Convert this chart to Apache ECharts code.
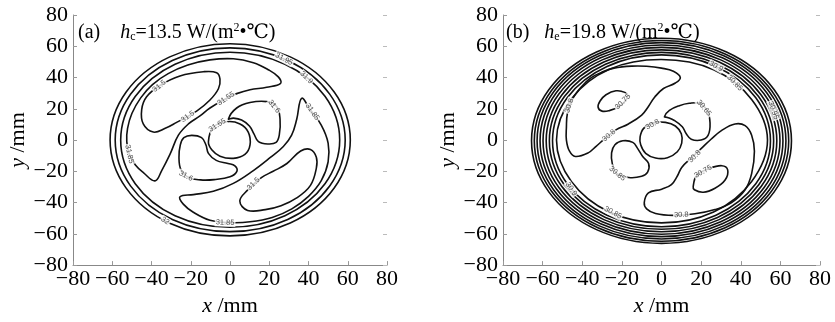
<!DOCTYPE html>
<html>
<head>
<meta charset="utf-8">
<script src="https://cdn.jsdelivr.net/npm/echarts@6/dist/echarts.min.js"></script>
<style>
	html,body{margin:0;padding:0;background:#fff;}
	#chart{width:835px;height:322px;}
</style>
</head>
<body>
<div id="chart"></div>
<script>
	// axis range (mm)
	const axisMin = -80, axisMax = 80, axisStep = 20;

	// ---- (a) hc = 13.5 : contour lines, [x mm, y mm]
	const ringA1 = [[61.3,0],[53.1,30.7],[30.7,53.2],[0,61.6],[-30.7,53.2],[-53,30.6],[-61.1,0],[-53,-30.6],[-30.7,-53.2],[0,-61.3],[30.7,-53.1],[53.1,-30.7]];
	const ringA2 = [[58.7,0],[50.8,29.4],[29.4,50.9],[0,59],[-29.4,50.9],[-50.7,29.3],[-58.5,0],[-50.7,-29.3],[-29.4,-50.8],[0,-58.6],[29.4,-50.8],[50.8,-29.4]];
	const ringA3 = [[55.9,0],[48.4,28],[28,48.5],[0,56.2],[-28,48.5],[-48.3,27.9],[-55.7,0],[-48.3,-27.9],[-28,-48.4],[0,-55.8],[28,-48.4],[48.4,-28]];
	const wrapUpperA = [[-38.2,-26.1],[-44,-21],[-48.2,-16],[-51.3,-9],[-52.6,-1],[-52.2,7.5],[-50,17],[-45.5,27],[-39.5,35.5],[-31.5,42.5],[-21.5,48],[-10.2,51.3],[1.7,52],[11.9,49.5],[19.5,45],[24.6,40.4],[25.8,36.3],[18.7,33.8],[10.2,32.2],[3.4,29.7],[-1.7,26.7],[-10.2,20.5],[-15.3,15.4],[-21.2,10.3],[-26.3,3.1],[-30.6,-9.2],[-34.8,-19.5]];
	const wrapLowerA = [[36.5,26.7],[40.8,19.5],[46.5,9.5],[50,-2],[50,-14],[46.5,-26],[40,-36],[31.5,-44],[21.5,-49.5],[10.2,-52.3],[0,-52.8],[-10.2,-51.3],[-18.7,-46.2],[-23.8,-41],[-25.5,-36.3],[-18.7,-34.9],[-8.5,-32.8],[1.7,-27.7],[11.9,-19.5],[20.4,-11.3],[27.2,-4.1],[31.4,3.1],[34,13.3]];
	const blobUpperA = [[-45,19.5],[-44.2,10.3],[-39.1,5.1],[-33,7.5],[-27.2,11.3],[-17,18.5],[-10.2,25.6],[-5.9,32.8],[-5.1,39],[-6.8,43.1],[-13.6,43.7],[-25.5,41],[-35.7,34.9],[-42.5,27.7]];
	const blobLowerA = [[5,-39],[9,-45],[18,-44.5],[26,-42],[34,-37],[41,-29],[44,-18],[44,-11],[41,-6],[36,-7],[29,-15],[22,-20],[16,-24],[9,-32]];
	const circleA = [[-11,-1],[-8.5,8.2],[-1.7,11.7],[5.1,10.3],[9.3,5.1],[10.2,-3.1],[7.6,-9.2],[1.7,-11.7],[-5.1,-10.3],[-9.3,-6.2]];
	const lobeRightA = [[-0.8,13.5],[3.4,20.5],[10.2,24],[18.7,24.6],[23.8,21.5],[25.5,13.3],[25.1,3.1],[23.5,-1.5],[19.5,-2.5],[14.5,-1],[12.2,4],[9.9,9],[5.9,12.8],[1.7,14]];
	const lobeLeftA = [[-25.3,-3],[-23.5,1.5],[-19.5,3],[-14.5,1.5],[-12.3,-3],[-11,-8.5],[-7,-13],[-1,-15],[2.5,-16.5],[3.5,-20],[0,-23.5],[-8,-25.3],[-15,-25.5],[-21,-24],[-25,-19],[-26,-11]];
	// contour labels (a): [x, y, text]
	const labelsA = [[-36,34.5,'31.5'],[-21.5,15,'31.5'],[-2,26.5,'31.55'],[22.5,21.5,'31.6'],[-6.5,9.5,'31.65'],[42,18,'31.85'],[39,40,'31.9'],[27.5,51.8,'31.95'],[-51.3,-9,'31.85'],[-22.5,-23,'31.6'],[12,-28,'31.5'],[-33,-51.6,'32'],[-2.5,-52.8,'31.85']];
	const labelAnglesA = [38,35,33,-50,32,-55,-44,-28,-78,-28,45,-33,-2];

	// ---- (b) he = 19.8
	const ringB1 = [[65.6,-0.5],[56.8,32.3],[32.8,56.3],[0,65.1],[-32.8,56.3],[-56.8,32.3],[-65.6,-0.5],[-56.8,-33.3],[-32.8,-57.3],[0,-66.1],[32.8,-57.3],[56.8,-33.3]];
	const ringB2 = [[64.2,-0.5],[55.6,31.6],[32.1,55.1],[0,63.7],[-32.1,55.1],[-55.6,31.6],[-64.2,-0.5],[-55.6,-32.6],[-32.1,-56.1],[0,-64.7],[32.1,-56.1],[55.6,-32.6]];
	const ringB3 = [[62.8,-0.5],[54.4,30.9],[31.4,53.9],[0,62.3],[-31.4,53.9],[-54.4,30.9],[-62.8,-0.5],[-54.4,-31.9],[-31.4,-54.9],[0,-63.3],[31.4,-54.9],[54.4,-31.9]];
	const ringB4 = [[61.3,-0.5],[53.1,30.2],[30.7,52.6],[0,60.8],[-30.7,52.6],[-53.1,30.2],[-61.3,-0.5],[-53.1,-31.2],[-30.7,-53.6],[0,-61.8],[30.7,-53.6],[53.1,-31.2]];
	const ringB5 = [[59.8,-0.5],[51.8,29.4],[29.9,51.3],[0,59.3],[-29.9,51.3],[-51.8,29.4],[-59.8,-0.5],[-51.8,-30.4],[-29.9,-52.3],[0,-60.3],[29.9,-52.3],[51.8,-30.4]];
	const ringB6 = [[58.2,-0.5],[50.4,28.6],[29.1,49.9],[0,57.7],[-29.1,49.9],[-50.4,28.6],[-58.2,-0.5],[-50.4,-29.6],[-29.1,-50.9],[0,-58.7],[29.1,-50.9],[50.4,-29.6]];
	const ringB7 = [[56.6,-0.5],[49,27.8],[28.3,48.5],[0,56.1],[-28.3,48.5],[-49,27.8],[-56.6,-0.5],[-49,-28.8],[-28.3,-49.5],[0,-57.1],[28.3,-49.5],[49,-28.8]];
	const ringB8 = [[55,-0.5],[47.6,27],[27.5,47.1],[0,54.5],[-27.5,47.1],[-47.6,27],[-55,-0.5],[-47.6,-28],[-27.5,-48.1],[0,-55.5],[27.5,-48.1],[47.6,-28]];
	const ringB9 = [[53.5,0],[45.5,26],[26.3,45],[0,51.5],[-26.3,45.3],[-45.5,26.3],[-53,0],[-45.5,-26.5],[-26.3,-46],[0,-53],[26.3,-46],[45.5,-26.5]];
	const blobUpperB = [[-47.5,17],[-45,26],[-40.5,34],[-36,39.5],[-30,43.5],[-24,46],[-15,47.3],[-7.5,47.2],[0,46],[6,44],[9.5,40],[7,36.5],[1,33],[-3.3,27.7],[-6.6,21.5],[-10,16],[-16.7,10.3],[-23,6.5],[-28.5,1],[-33,-4],[-37,-8.2],[-43.5,-10.5],[-46.5,-7],[-48,0],[-48,8]];
	const spotUpperB = [[-32,21],[-31,25],[-28,29],[-23,31.5],[-18.5,30.5],[-17,28],[-19,24],[-22,21],[-26,19],[-30,18.5]];
	const circleB = [[-10.8,2],[-9,7.5],[-4,11],[2,11.3],[7,9],[10,4],[10.2,-2],[8,-7.5],[3,-11.3],[-3,-11.5],[-8,-8.5],[-10.5,-3]];
	const lobeRightB = [[1.5,15],[4,19],[9,22],[14,23.5],[19,23.5],[23,19],[24.5,11],[23.5,3],[20,0],[15,0.5],[12.5,4],[10.5,8.5],[6.5,12.5],[3,14.5]];
	const lobeLeftB = [[-23.5,-3],[-19.5,-0.5],[-14.5,-1.5],[-12,-5.5],[-9.5,-10.5],[-6.5,-15],[-7,-20.5],[-10,-23.2],[-16.5,-24],[-22.5,-21.5],[-24.8,-15.4],[-25.2,-8.2]];
	const blobLowerB = [[-8.7,-40],[-6.6,-33.8],[0.1,-31.4],[5,-28.5],[8,-23],[10.2,-17.5],[15,-11.5],[20,-5.5],[25,0.5],[30.4,6.2],[37.1,10.3],[42.2,9.2],[45.5,3.1],[46.9,-7.2],[45.5,-21.5],[42.2,-31.8],[35.4,-40],[27,-44.5],[16.9,-47.2],[6,-48.2],[-3,-47],[-7.5,-44]];
	const spotLowerB = [[16,-29.7],[17.8,-22.6],[23.6,-18.5],[30.4,-16.4],[33.4,-19.1],[32.1,-25.6],[27,-30.8],[21.1,-33.4],[16.6,-31.8]];
	const labelsB = [[-46.5,22,'30.8'],[-26.5,3,'30.8'],[-19.5,24.5,'30.75'],[-4.5,10,'30.8'],[21.5,20.5,'30.65'],[-22.3,-21.5,'30.85'],[16.7,-10.5,'30.8'],[21,-20.2,'30.75'],[10,-47.8,'30.8'],[27.5,47.1,'30.9'],[37,36.5,'30.85'],[56.5,19,'30.95'],[-24.5,-46.5,'30.85'],[-45.6,-31.3,'30.9']];
	const labelAnglesB = [72,40,45,30,-50,-40,45,30,3,-30,-45,-70,-28,-56];

	const serif = "'Liberation Serif','DejaVu Serif',serif";
	const minus = v => String(v).replace('-', '\u2212');

	const contour = (points, panel, smooth) => ({
		type: 'custom',
		xAxisIndex: panel,
		yAxisIndex: panel * 2,
		data: points,
		encode: {x: 0, y: 1},
		silent: true,
		renderItem: function(params, api) {
			if (params.dataIndexInside !== 0) return null;
			let pts = [];
			for (let i = 0; i < params.dataInsideLength; i++) {
				pts.push(api.coord([api.value(0, i), api.value(1, i)]));
			}
			return {
				type: 'polygon',
				shape: {points: pts, smooth: smooth},
				style: {fill: 'none', stroke: '#111', lineWidth: 1.6}
			};
		}
	});

	const labels = (list, angles, panel) => ({
		type: 'scatter',
		xAxisIndex: panel,
		yAxisIndex: panel * 2,
		symbolSize: 1,
		silent: true,
		z: 5,
		itemStyle: {color: 'rgba(0,0,0,0)'},
		data: list.map((d, i) => ({name: d[2], value: [d[0], d[1]], label: {rotate: angles[i]}})),
		label: {
			show: true,
			position: 'inside',
			formatter: '{b}',
			fontFamily: "'Liberation Sans',sans-serif",
			fontSize: 7.5,
			color: '#222',
			backgroundColor: '#fff',
			padding: [0, 1]
		}
	});

	const xAxisOf = (i) => ({
		gridIndex: i, type: 'value', min: axisMin, max: axisMax, interval: axisStep,
		axisLine: {show: true, onZero: false, lineStyle: {color: '#888', width: 1}},
		axisTick: {show: true, inside: true, length: 4, lineStyle: {color: '#999'}},
		axisLabel: {color: '#000', fontFamily: serif, fontSize: 22, margin: 3, formatter: minus},
		splitLine: {show: false},
		name: '{i|x} /mm', nameLocation: 'middle', nameGap: 25,
		nameTextStyle: {color: '#000', fontFamily: serif, fontSize: 22,
			rich: {i: {fontStyle: 'italic', fontFamily: serif, fontSize: 22, color: '#000'}}}
	});
	const yAxisOf = (i) => ({
		gridIndex: i, type: 'value', min: axisMin, max: axisMax, interval: axisStep,
		axisLine: {show: true, onZero: false, lineStyle: {color: '#888', width: 1}},
		axisTick: {show: true, inside: true, length: 4, lineStyle: {color: '#999'}},
		axisLabel: {color: '#000', fontFamily: serif, fontSize: 22, margin: 5, formatter: minus},
		splitLine: {show: false},
		name: '{i|y} /mm', nameLocation: 'middle', nameGap: 44, nameRotate: 90,
		nameTextStyle: {color: '#000', fontFamily: serif, fontSize: 22,
			rich: {i: {fontStyle: 'italic', fontFamily: serif, fontSize: 22, color: '#000'}}}
	});
	const rightAxisOf = (i) => ({
		gridIndex: i, type: 'value', position: 'right', min: axisMin, max: axisMax, interval: axisStep,
		axisLine: {show: false, onZero: false},
		axisTick: {show: true, inside: true, length: 4, lineStyle: {color: '#bbb'}},
		axisLabel: {show: false},
		splitLine: {show: false}
	});

	const titleRich = {
		n: {fontFamily: serif, fontSize: 20, color: '#000', lineHeight: 21, verticalAlign: 'middle'},
		i: {fontFamily: serif, fontStyle: 'italic', fontSize: 20, color: '#000', lineHeight: 21, verticalAlign: 'middle'},
		sub: {fontFamily: serif, fontSize: 12, color: '#000', lineHeight: 12, verticalAlign: 'bottom'},
		sup: {fontFamily: serif, fontSize: 12, color: '#000', lineHeight: 12, verticalAlign: 'top'}
	};

	const myChart = echarts.init(document.getElementById('chart'));
	myChart.setOption({
		backgroundColor: '#fff',
		animation: false,
		title: [
			{text: '{n|(a)    }{i|h}{sub|c}{n|=13.5 W/(m}{sup|2}{n|\u2022\u2103)}', left: 78, top: 22, padding: 0,
				textStyle: {fontWeight: 'normal', lineHeight: 25, rich: titleRich}},
			{text: '{n|(b)   }{i|h}{sub|e}{n|=19.8 W/(m}{sup|2}{n|\u2022\u2103)}', left: 506, top: 22, padding: 0,
				textStyle: {fontWeight: 'normal', lineHeight: 25, rich: titleRich}}
		],
		grid: [
			{left: 73, top: 15, width: 314, height: 260},
			{left: 503, top: 15, width: 317, height: 260}
		],
		xAxis: [xAxisOf(0), xAxisOf(1)],
		yAxis: [yAxisOf(0), rightAxisOf(0), yAxisOf(1), rightAxisOf(1)],
		series: [
			contour(ringA1, 0, 0.35), contour(ringA2, 0, 0.35), contour(ringA3, 0, 0.35),
			contour(wrapUpperA, 0, 0.4), contour(wrapLowerA, 0, 0.4),
			contour(blobUpperA, 0, 0.4), contour(blobLowerA, 0, 0.4),
			contour(circleA, 0, 0.4), contour(lobeRightA, 0, 0.4), contour(lobeLeftA, 0, 0.4),
			labels(labelsA, labelAnglesA, 0),
			contour(ringB1, 1, 0.35), contour(ringB2, 1, 0.35), contour(ringB3, 1, 0.35),
			contour(ringB4, 1, 0.35), contour(ringB5, 1, 0.35), contour(ringB6, 1, 0.35),
			contour(ringB7, 1, 0.35), contour(ringB8, 1, 0.35), contour(ringB9, 1, 0.35),
			contour(blobUpperB, 1, 0.4), contour(spotUpperB, 1, 0.4), contour(circleB, 1, 0.4),
			contour(lobeRightB, 1, 0.4), contour(lobeLeftB, 1, 0.4),
			contour(blobLowerB, 1, 0.4), contour(spotLowerB, 1, 0.4),
			labels(labelsB, labelAnglesB, 1)
		]
	});
</script>
</body>
</html>
